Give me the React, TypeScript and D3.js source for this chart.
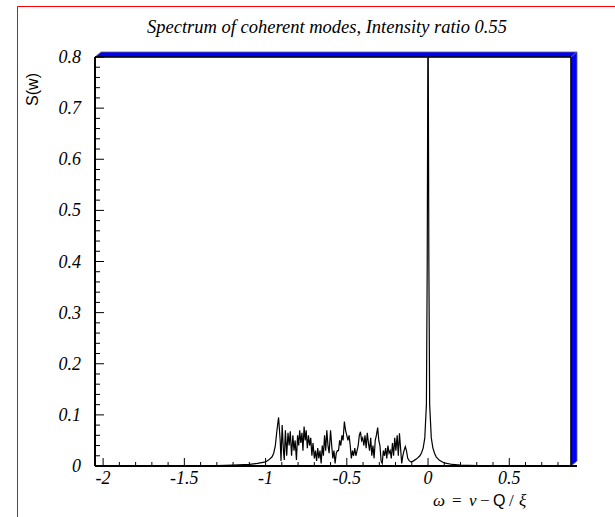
import React from "react";
import * as d3 from "d3";

const titleText = "Spectrum of coherent modes, Intensity ratio 0.55";
const xTickValues = [-2, -1.5, -1, -0.5, 0, 0.5];
const xTickLabels = ["-2", "-1.5", "-1", "-0.5", "0", "0.5"];
const yTickValues = [0, 0.1, 0.2, 0.3, 0.4, 0.5, 0.6, 0.7, 0.8];
const yTickLabels = ["0", "0.1", "0.2", "0.3", "0.4", "0.5", "0.6", "0.7", "0.8"];

const omega = [
  -2.05, -1.8, -1.6, -1.5, -1.4, -1.3, -1.2, -1.1, -1.05, -1.0, -0.98, -0.96, -0.95,
  -0.94, -0.93, -0.92, -0.91, -0.905, -0.898, -0.89, -0.885, -0.878, -0.87, -0.862, -0.855,
  -0.848, -0.84, -0.832, -0.825, -0.818, -0.81, -0.803, -0.796, -0.79, -0.783, -0.776, -0.77,
  -0.763, -0.756, -0.75, -0.743, -0.736, -0.729, -0.722, -0.715, -0.708, -0.7, -0.693, -0.686,
  -0.679, -0.672, -0.665, -0.658, -0.651, -0.644, -0.637, -0.63, -0.623, -0.616, -0.609, -0.6,
  -0.593, -0.586, -0.579, -0.572, -0.565, -0.558, -0.551, -0.544, -0.537, -0.53, -0.523, -0.515,
  -0.508, -0.5, -0.493, -0.486, -0.479, -0.472, -0.465, -0.458, -0.451, -0.444, -0.437, -0.43,
  -0.423, -0.416, -0.409, -0.402, -0.395, -0.388, -0.381, -0.374, -0.367, -0.36, -0.353, -0.346,
  -0.339, -0.332, -0.325, -0.318, -0.31, -0.303, -0.296, -0.289, -0.282, -0.275, -0.268, -0.261,
  -0.254, -0.247, -0.24, -0.233, -0.226, -0.219, -0.212, -0.205, -0.198, -0.19, -0.183, -0.176,
  -0.169, -0.162, -0.155, -0.148, -0.14, -0.133, -0.125, -0.115, -0.105, -0.095, -0.085, -0.07,
  -0.05, -0.04, -0.03, -0.02, -0.01, -0.005, 0, 0.005, 0.01, 0.02, 0.03, 0.04, 0.05, 0.07,
  0.1, 0.15, 0.2, 0.3, 0.5, 0.88,
];
const spectrum = [
  0, 0, 0, 0, 0.0005, 0.001, 0.002, 0.003, 0.005, 0.008, 0.012, 0.018, 0.025,
  0.04, 0.07, 0.095, 0.05, 0.01, 0.08, 0.03, 0.012, 0.07, 0.02, 0.065, 0.04,
  0.068, 0.02, 0.06, 0.03, 0.05, 0.012, 0.06, 0.04, 0.07, 0.045, 0.065, 0.03,
  0.077, 0.05, 0.07, 0.035, 0.06, 0.04, 0.055, 0.02, 0.045, 0.015, 0.03, 0.01,
  0.035, 0.015, 0.03, 0.005, 0.04, 0.02, 0.06, 0.03, 0.07, 0.04, 0.025, 0.07,
  0.04, 0.015, 0.03, 0.005, 0.025, 0.03, 0.03, 0.05, 0.04, 0.06, 0.05, 0.087,
  0.07, 0.06, 0.05, 0.06, 0.04, 0.015, 0.03, 0.02, 0.035, 0.02, 0.03, 0.04,
  0.06, 0.067, 0.05, 0.055, 0.04, 0.06, 0.035, 0.065, 0.045, 0.03, 0.055, 0.02,
  0.04, 0.015, 0.05, 0.06, 0.075, 0.05, 0.04, 0.01, 0.005, 0.03, 0.02, 0.035,
  0.015, 0.04, 0.025, 0.03, 0.015, 0.045, 0.02, 0.055, 0.03, 0.06, 0.02, 0.064,
  0.035, 0.005, 0.02, 0.03, 0.038, 0.03, 0.015, 0.01, 0.008, 0.009, 0.011, 0.014,
  0.02, 0.026, 0.035, 0.055, 0.12, 0.4, 0.95, 0.4, 0.12, 0.055, 0.035, 0.025, 0.018, 0.011,
  0.006, 0.003, 0.002, 0.001, 0.0005, 0,
];

const W = 615;
const H = 517;
const L = 95, R = 571, T = 57, B = 466;

export default function App() {
  const x = d3.scaleLinear().domain([-2.05, 0.88]).range([L, R]);
  const y = d3.scaleLinear().domain([0, 0.8]).range([B, T]);
  const pts: [number, number][] = omega.map((o, i) => [o, spectrum[i]]);
  const line = d3.line<[number, number]>().x((d) => x(d[0])).y((d) => y(d[1]));

  const xMinor = d3.range(-20, 9).map((i) => i / 10).filter((v) => !xTickValues.some((m) => Math.abs(m - v) < 1e-6));
  const yMinor = d3.range(0, 41).map((i) => i / 50).filter((v) => !yTickValues.some((m) => Math.abs(m - v) < 1e-6));

  const serif = "Liberation Serif, DejaVu Serif, serif";
  const sans = "Liberation Sans, Arial, sans-serif";
  const bw = 6;

  return (
    <svg width={W} height={H} style={{ position: "absolute", left: 0, top: 0, background: "#fff" }}>
      <line x1={17.5} y1={6.5} x2={W} y2={6.5} stroke="#ff0000" strokeWidth={1} />
      <line x1={17.5} y1={6.5} x2={17.5} y2={H} stroke="#ff0000" strokeWidth={1} />

      <text x={327} y={33} textAnchor="middle" fontFamily={serif} fontStyle="italic" fontSize={18.5}>
        {titleText}
      </text>

      <defs>
        <clipPath id="plotclip">
          <rect x={L} y={T} width={R - L} height={B - T} />
        </clipPath>
      </defs>

      <path d={line(pts) || ""} fill="none" stroke="#000" strokeWidth={1.2} clipPath="url(#plotclip)" />

      <polygon
        points={`${L},${T} ${L + bw},${T - bw + 1} ${R + bw},${T - bw + 1} ${R},${T}`}
        fill="#0000ff"
        stroke="#666"
        strokeWidth={0.8}
      />
      <polygon
        points={`${R},${T} ${R + bw},${T - bw + 1} ${R + bw},${B - bw + 1} ${R},${B}`}
        fill="#0000ff"
        stroke="#666"
        strokeWidth={0.8}
      />
      <line x1={L} y1={T} x2={R} y2={T} stroke="#000" strokeWidth={1.5} />
      <line x1={R} y1={T} x2={R} y2={B} stroke="#000" strokeWidth={1.5} />
      <line x1={L} y1={B} x2={R + bw} y2={B} stroke="#000" strokeWidth={2} />
      <line x1={L} y1={T} x2={L} y2={B} stroke="#000" strokeWidth={2} />

      {xTickValues.map((v) => (
        <line key={"xm" + v} x1={x(v)} x2={x(v)} y1={B} y2={B - 8} stroke="#000" strokeWidth={1} />
      ))}
      {xMinor.map((v) => (
        <line key={"xn" + v} x1={x(v)} x2={x(v)} y1={B} y2={B - 4} stroke="#000" strokeWidth={1} />
      ))}
      {yTickValues.map((v) => (
        <line key={"ym" + v} x1={L} x2={L + 9} y1={y(v)} y2={y(v)} stroke="#000" strokeWidth={1} />
      ))}
      {yMinor.map((v) => (
        <line key={"yn" + v} x1={L} x2={L + 5} y1={y(v)} y2={y(v)} stroke="#000" strokeWidth={1} />
      ))}

      {xTickValues.map((v, i) => (
        <text key={"xl" + v} x={x(v)} y={484} textAnchor="middle" fontFamily={serif} fontStyle="italic" fontSize={18}>
          {xTickLabels[i]}
        </text>
      ))}
      {yTickValues.map((v, i) => (
        <text key={"yl" + v} x={81} y={y(v) + 6} textAnchor="end" fontFamily={serif} fontStyle="italic" fontSize={18}>
          {yTickLabels[i]}
        </text>
      ))}

      <text y={506} fontFamily={serif} fontSize={17}>
        <tspan x={433} fontStyle="italic">ω</tspan>
        <tspan x={452}>=</tspan>
        <tspan x={469} fontStyle="italic">ν</tspan>
        <tspan x={480}>−</tspan>
        <tspan x={493} fontFamily={sans} fontSize={16}>Q</tspan>
        <tspan x={509}>/</tspan>
        <tspan x={519} fontStyle="italic">ξ</tspan>
      </text>

      <text
        transform="translate(38,73) rotate(-90)"
        textAnchor="end"
        fontFamily={sans}
        fontSize={16}
      >
        S(w)
      </text>
    </svg>
  );
}
